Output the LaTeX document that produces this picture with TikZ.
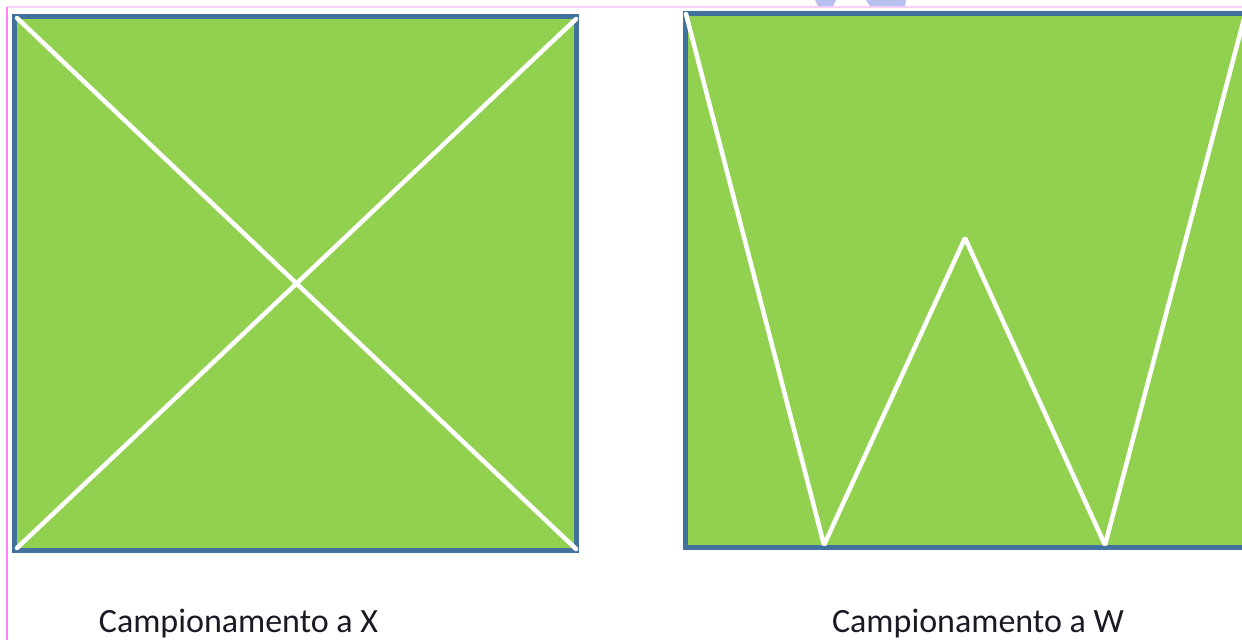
\documentclass[tikz,border=0pt]{standalone}
\usepackage{fontspec}
\setmainfont{Carlito}
\definecolor{boxgreen}{HTML}{92D050}
\definecolor{boxblue}{HTML}{41719C}
\definecolor{guidepink}{HTML}{FF80FF}
\definecolor{guidepinklight}{HTML}{F8D0F8}
\definecolor{markblue}{HTML}{B8BEEE}
\definecolor{labeltext}{HTML}{1A1A24}
\tikzset{
  panel/.style={fill=boxgreen, draw=boxblue, line width=5pt},
  cut/.style={draw=white, line width=4.5pt, line cap=round, line join=bevel},
  caption/.style={font=\fontsize{34}{37}\selectfont, text=labeltext, inner sep=0pt, anchor=base}
}
\begin{document}
\begin{tikzpicture}[x=1pt, y=-1pt]
  \useasboundingbox (0,0) rectangle (1242,640);
  \clip (0,0) rectangle (1242,640);
  \fill[white] (0,0) rectangle (1242,640);
  % faint guides
  \draw[guidepinklight, line width=1.5pt] (7,7) -- (1242,7);
  \draw[guidepink, line width=1.5pt] (7,7) -- (7,640);
  % faint mark at top
  \fill[markblue] (815,0) -- (836,0) -- (833,6) -- (818,6) -- cycle;
  \fill[markblue] (866,0) -- (906,0) -- (905,6) -- (870,6) -- cycle;
  % left panel
  \coordinate (xa) at (14.5,16.5);
  \coordinate (xc) at (576.5,550);
  \path[panel] (xa) rectangle (xc);
  \draw[cut] (17,18) -- (576,549);
  \draw[cut] (576,19) -- (17,548);
  % right panel
  \coordinate (wa) at (685,13.5);
  \coordinate (wc) at (1260,547.5);
  \path[panel] (wa) rectangle (wc);
  \coordinate (w1) at (686,14);
  \coordinate (w2) at (824,545);
  \coordinate (w3) at (965,238);
  \coordinate (w4) at (1105,545);
  \coordinate (w5) at (1245,15);
  \draw[cut] (w1) -- (w2) -- (w3) -- (w4) -- (w5);
  % captions
  \node[caption] (capx) at (238.5,632) {Campionamento a X};
  \node[caption] (capw) at (978,632) {Campionamento a W};
\end{tikzpicture}
\end{document}
